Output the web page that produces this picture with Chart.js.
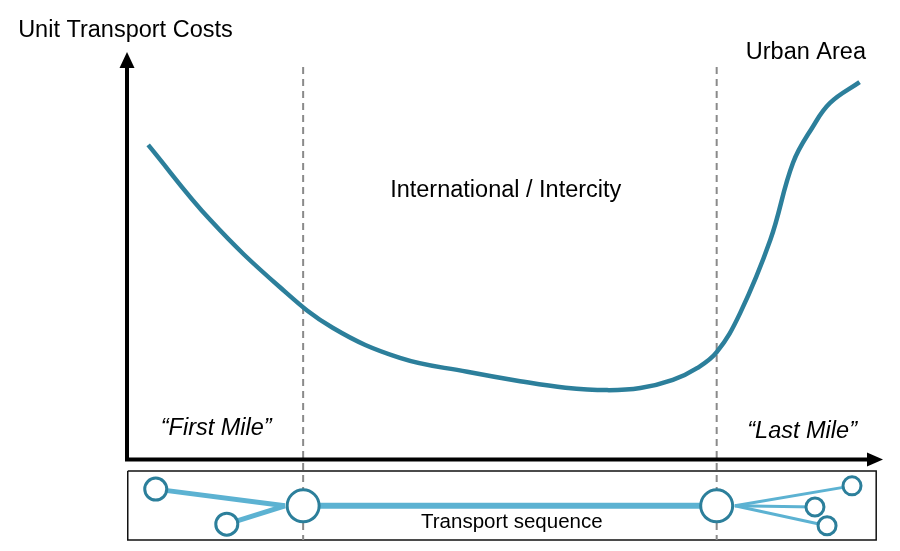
<!DOCTYPE html>
<html>
<head>
<meta charset="utf-8">
<script src="https://cdn.jsdelivr.net/npm/chart.js@4/dist/chart.umd.min.js"></script>
<style>
  html, body { margin: 0; padding: 0; background: #fff; }
  #wrap { width: 900px; height: 551px; position: relative; }
</style>
</head>
<body>
<div id="wrap"><canvas id="chart"></canvas></div>
<script>
// cost curve (x = distance along the sequence, y = unit cost)
const curveX = [2.8, 11.0, 20.2, 27.2, 36.1, 45.0, 52.0, 58.0, 63.5, 67.9, 72.2, 75.4, 78.0, 81.1, 85.1, 88.1, 90.7, 93.0, 96.9];
const curveY = [77.2, 58.8, 42.3, 32.3, 24.9, 21.5, 19.2, 17.6, 17.0, 17.5, 19.5, 22.4, 26.3, 35.9, 53.9, 72.8, 81.6, 87.5, 92.6];

// segment boundaries (dashed)
const boundaryX = [23.3, 78.0];
const boundaryTop = 96.3;
const boundaryBottom = -19.8;

// transport sequence network below the axis
const nodeX = [3.8, 13.2, 23.3, 78.0, 95.9, 91.0, 92.6];
const nodeY = [-7.3, -15.9, -11.4, -11.4, -6.5, -11.7, -16.3];
const nodeSize = [11, 11, 16, 16, 9, 9, 9];
const hubX = [20.9, 80.4];
const hubY = -11.4;
const feederLinks = [0, 1];      // nodes joined to the left hub
const trunkLink = [2, 3];
const distLinks = [4, 5, 6];     // nodes joined to the right hub

const boxX = [0.1, 99.1];
const boxY = [-2.85, -19.8];

const labels = [
  { text: 'Unit Transport Costs', x: -14.4, y: 103.7, align: 'left' },
  { text: 'Urban Area', x: 89.8, y: 98.3, align: 'center' },
  { text: 'International / Intercity', x: 50.1, y: 64.4, align: 'center' },
  { text: '\u201cFirst Mile\u201d', x: 11.8, y: 6.0, align: 'center', italic: true },
  { text: '\u201cLast Mile\u201d', x: 89.3, y: 5.3, align: 'center', italic: true },
  { text: 'Transport sequence', x: 50.9, y: -16.8, align: 'center', small: true }
];

const teal = 'rgb(44,127,155)';
const light = 'rgb(92,178,210)';

const seg = (pts, width, color, order, dash) => ({
  data: pts,
  borderColor: color,
  borderWidth: width,
  borderDash: dash || [],
  pointRadius: 0,
  tension: 0,
  fill: false,
  clip: false,
  order: order
});

const datasets = [];

datasets.push({
  data: nodeX.map((x, i) => ({ x: x, y: nodeY[i] })),
  showLine: false,
  pointRadius: nodeSize,
  pointBackgroundColor: '#fff',
  pointBorderColor: teal,
  pointBorderWidth: 3,
  clip: false,
  order: 0
});

datasets.push({
  data: curveX.map((x, i) => ({ x: x, y: curveY[i] })),
  borderColor: teal,
  borderWidth: 4.5,
  pointRadius: 0,
  tension: 0.4,
  fill: false,
  clip: false,
  order: 2
});

for (const bx of boundaryX) {
  datasets.push(seg([{ x: bx, y: boundaryTop }, { x: bx, y: boundaryBottom }], 2, '#8a8a8a', 4, [7, 5]));
}

datasets.push(seg([
  { x: boxX[0], y: boxY[0] }, { x: boxX[1], y: boxY[0] },
  { x: boxX[1], y: boxY[1] }, { x: boxX[0], y: boxY[1] },
  { x: boxX[0], y: boxY[0] }
], 1.5, '#111', 5));

for (const n of feederLinks) {
  datasets.push(seg([{ x: nodeX[n], y: nodeY[n] }, { x: hubX[0], y: hubY }], 5, light, 3));
}
datasets.push(seg([{ x: nodeX[trunkLink[0]], y: nodeY[trunkLink[0]] }, { x: nodeX[trunkLink[1]], y: nodeY[trunkLink[1]] }], 6, light, 3));
for (const n of distLinks) {
  datasets.push(seg([{ x: hubX[1], y: hubY }, { x: nodeX[n], y: nodeY[n] }], 3, light, 3));
}

// axes with arrow heads + text labels
const decor = {
  id: 'decor',
  afterDatasetsDraw(chart) {
    const ctx = chart.ctx;
    const xs = chart.scales.x, ys = chart.scales.y;
    const x0 = xs.getPixelForValue(0), y0 = ys.getPixelForValue(0);
    const xEnd = xs.getPixelForValue(100), yEnd = ys.getPixelForValue(100);
    ctx.save();
    ctx.strokeStyle = '#000';
    ctx.fillStyle = '#000';
    ctx.lineWidth = 4;
    ctx.lineCap = 'square';
    ctx.beginPath();
    ctx.moveTo(x0, y0);
    ctx.lineTo(x0, yEnd + 12);
    ctx.moveTo(x0, y0);
    ctx.lineTo(xEnd - 12, y0);
    ctx.stroke();
    ctx.beginPath();
    ctx.moveTo(x0, yEnd);
    ctx.lineTo(x0 - 7.5, yEnd + 16);
    ctx.lineTo(x0 + 7.5, yEnd + 16);
    ctx.closePath();
    ctx.fill();
    ctx.beginPath();
    ctx.moveTo(xEnd, y0);
    ctx.lineTo(xEnd - 16, y0 - 7);
    ctx.lineTo(xEnd - 16, y0 + 7);
    ctx.closePath();
    ctx.fill();

    ctx.textBaseline = 'alphabetic';
    for (const l of labels) {
      const size = l.small ? 20.5 : 23.5;
      ctx.font = (l.italic ? 'italic ' : '') + size + 'px "Liberation Sans", Arial, sans-serif';
      ctx.textAlign = l.align;
      ctx.fillText(l.text, xs.getPixelForValue(l.x), ys.getPixelForValue(l.y));
    }
    ctx.restore();
  }
};

new Chart(document.getElementById('chart'), {
  type: 'line',
  data: { datasets: datasets },
  options: {
    responsive: true,
    maintainAspectRatio: false,
    animation: false,
    events: [],
    layout: { autoPadding: false, padding: { left: 127, right: 17, top: 52, bottom: 2 } },
    scales: {
      x: { type: 'linear', min: 0, max: 100, display: false },
      y: { type: 'linear', min: -22, max: 100, display: false }
    },
    plugins: { legend: { display: false }, tooltip: { enabled: false } }
  },
  plugins: [decor]
});
</script>
</body>
</html>
